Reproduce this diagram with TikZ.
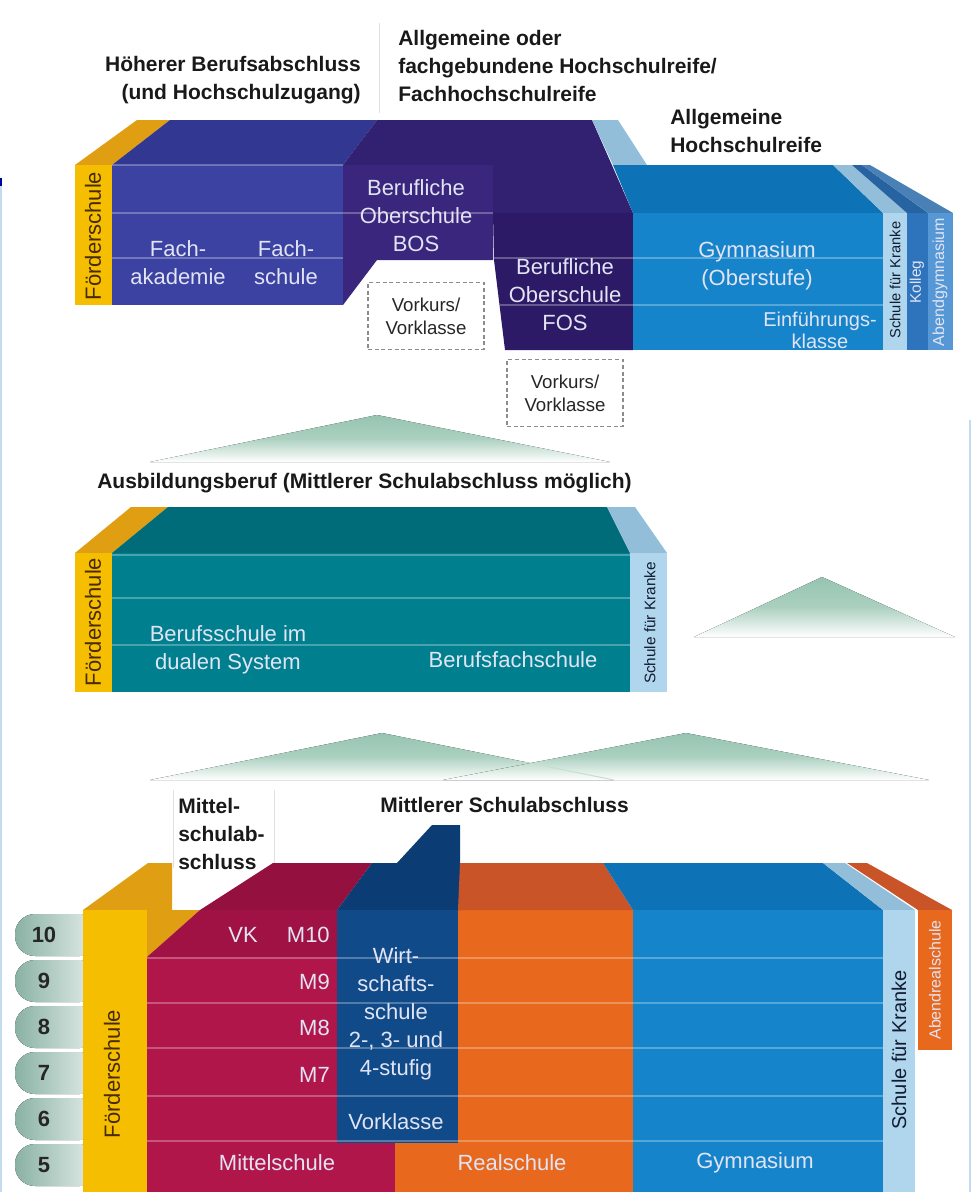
\documentclass[tikz,border=0pt]{standalone}
\usepackage{fontspec}
\setmainfont{Liberation Sans}
\usetikzlibrary{positioning}

\definecolor{gelb}{RGB}{246,190,0}
\definecolor{gelbdach}{RGB}{224,158,18}
\definecolor{fachblau}{RGB}{60,66,162}
\definecolor{fachdach}{RGB}{50,56,146}
\definecolor{bosviolett}{RGB}{58,38,124}
\definecolor{fosviolett}{RGB}{44,26,102}
\definecolor{violettdach}{RGB}{50,32,112}
\definecolor{gymblau}{RGB}{22,132,202}
\definecolor{gymdach}{RGB}{14,114,182}
\definecolor{hellblau}{RGB}{176,214,238}
\definecolor{hellblaudach}{RGB}{146,190,218}
\definecolor{kollegblau}{RGB}{46,116,188}
\definecolor{abendblau}{RGB}{86,152,214}
\definecolor{petrol}{RGB}{0,128,143}
\definecolor{petroldach}{RGB}{0,108,122}
\definecolor{karmin}{RGB}{176,22,74}
\definecolor{karmindach}{RGB}{148,16,62}
\definecolor{karminhinten}{RGB}{160,18,68}
\definecolor{wirtblau}{RGB}{16,74,136}
\definecolor{wirtdach}{RGB}{12,60,116}
\definecolor{realorange}{RGB}{232,104,30}
\definecolor{orangedach}{RGB}{200,84,40}
\definecolor{bergfarbe}{RGB}{150,196,176}
\definecolor{stufe}{RGB}{138,178,164}
\definecolor{schrift}{RGB}{226,228,244}
\definecolor{foerdertext}{RGB}{70,44,0}
\definecolor{kranktext}{RGB}{18,28,48}
\definecolor{randblau}{RGB}{196,218,240}

\tikzset{
  kopf/.style={font=\bfseries\fontsize{15.75}{21}\selectfont, text=black!90, inner sep=0pt},
  lbl/.style={font=\fontsize{16.5}{21}\selectfont, text=schrift, align=center, inner sep=0pt},
  vorkurs/.style={draw=black!45, dash pattern=on 3pt off 2pt, line width=.8pt,
    font=\fontsize{14}{17}\selectfont, text=black!85, align=center},
  foerder/.style={rotate=90, font=\fontsize{16.5}{20}\selectfont, text=foerdertext, inner sep=0pt},
  krank/.style={rotate=90, text=kranktext, inner sep=0pt},
  zeile/.style={white, opacity=.28, line width=.9pt},
  trenn/.style={black!12, line width=.6pt},
  berg/.style={top color=bergfarbe, bottom color=white, middle color=bergfarbe!80},
  pille/.style={left color=stufe, right color=stufe!20, rounded corners=15pt},
  stufenr/.style={font=\bfseries\fontsize{16.5}{17}\selectfont, text=black!85, inner sep=0pt},
}

\begin{document}
\begin{tikzpicture}[x=0.75pt,y=-0.75pt]
\useasboundingbox (0,0) rectangle (971,1192);

% Rand
\draw[randblau, line width=1.5pt] (1,178) -- (1,1192);
\draw[blue!60!black, line width=1.5pt] (1,178) -- (1,186);
\draw[randblau, line width=1.5pt] (970,420) -- (970,1192);

% Berge
\fill[berg] (150,462) -- (377,415) -- (610,462) -- cycle;
\fill[berg] (694,637) -- (822,577) -- (955,637) -- cycle;
\fill[berg] (150,780) -- (382,733) -- (614,780) -- cycle;
\fill[berg] (443,780) -- (686,733) -- (929,780) -- cycle;
\draw[bergfarbe!55, line width=.8pt] (525,762) -- (614,780);

% Oberstufe
\draw[trenn] (379,23) -- (379,113);
\node[kopf, align=right, anchor=east] (hoehererKopf) at (361,80) {Höherer Berufsabschluss\\(und Hochschulzugang)};
\node[kopf, align=left, anchor=west] (reifeKopf) at (398,66) {Allgemeine oder\\fachgebundene Hochschulreife/\\Fachhochschulreife};
\node[kopf, align=left, anchor=west] (abiKopf) at (670,131) {Allgemeine\\Hochschulreife};

\fill[gelbdach] (75,165) -- (137,120) -- (170,120) -- (112,165) -- cycle;
\fill[gelb] (75,165) rectangle (112,305);
\fill[fachdach] (112,165) -- (170,120) -- (377,120) -- (343,165) -- cycle;
\fill[fachblau] (112,165) rectangle (343,305);
\fill[violettdach] (343,165) -- (377,120) -- (592,120) -- (633,213) -- (493,213) -- (493,165) -- cycle;
\fill[bosviolett] (343,165) -- (493,165) -- (493,260) -- (377,260) -- (343,305) -- cycle;
\fill[fosviolett] (493,213) -- (633,213) -- (633,350) -- (505,350) -- (494,260) -- cycle;
\fill[hellblaudach] (592,120) -- (618,120) -- (647,165) -- (613,165) -- cycle;
\fill[gymdach] (613,165) -- (833,165) -- (883,213) -- (633,213) -- cycle;
\fill[gymblau] (633,213) rectangle (883,350);
\fill[hellblaudach] (833,165) -- (852,165) -- (907,213) -- (883,213) -- cycle;
\fill[hellblau] (883,213) rectangle (907,350);
\fill[kollegblau!85!black] (852,165) -- (862,165) -- (928,213) -- (907,213) -- cycle;
\fill[kollegblau] (907,213) rectangle (928,350);
\fill[abendblau!85!black] (862,165) -- (870,165) -- (953,213) -- (928,213) -- cycle;
\fill[abendblau] (928,213) rectangle (953,350);
\draw[zeile] (112,165) -- (343,165);
\draw[zeile] (112,213) -- (493,213);
\draw[zeile] (112,258) -- (343,258);
\draw[zeile] (494,258) -- (883,258);
\draw[zeile] (500,305) -- (883,305);

\node[foerder] (foerderOben) at (93,236) {Förderschule};
\node[lbl] (fachakademie) at (178,263) {Fach-\\akademie};
\node[lbl] (fachschule) at (286,263) {Fach-\\schule};
\node[lbl] (bos) at (416,216) {Berufliche\\Oberschule\\BOS};
\node[vorkurs, minimum width=87pt, minimum height=50pt] (vorkursBos) at (426,316) {Vorkurs/\\Vorklasse};
\node[lbl] (fos) at (565,295) {Berufliche\\Oberschule\\FOS};
\node[vorkurs, minimum width=87pt, minimum height=50pt] (vorkursFos) at (565,393) {Vorkurs/\\Vorklasse};
\node[lbl] (gymOben) at (757,266) {Gymnasium\\(Oberstufe)};
\node[lbl, font=\fontsize{15}{16.5}\selectfont] (einfuehrung) at (820,330) {Einführungs-\\klasse};
\node[krank, font=\fontsize{11}{11}\selectfont] (krankOben) at (895,280) {Schule für Kranke};
\node[krank, text=schrift, font=\fontsize{11.5}{11.5}\selectfont] (kolleg) at (917,282) {Kolleg};
\node[krank, text=schrift, font=\fontsize{12}{12}\selectfont] (abendgym) at (940,282) {Abendgymnasium};

% Berufliche Bildung
\node[kopf, anchor=base west] (ausbildungKopf) at (97,488) {Ausbildungsberuf (Mittlerer Schulabschluss möglich)};
\fill[gelbdach] (75,553) -- (131,507) -- (168,507) -- (112,553) -- cycle;
\fill[gelb] (75,553) rectangle (112,692);
\fill[petroldach] (112,553) -- (168,507) -- (607,507) -- (630,553) -- cycle;
\fill[petrol] (112,553) rectangle (630,692);
\fill[hellblaudach] (607,507) -- (635,507) -- (667,553) -- (630,553) -- cycle;
\fill[hellblau] (630,553) rectangle (667,692);
\draw[zeile] (112,555) -- (630,555);
\draw[zeile] (112,598) -- (630,598);
\draw[zeile] (112,645) -- (630,645);

\node[foerder] (foerderMitte) at (93,622) {Förderschule};
\node[lbl] (berufsschule) at (228,650) {Berufsschule im\\dualen System};
\node[lbl] (berufsfach) at (513,660) {Berufsfachschule};
\node[krank, font=\fontsize{11.5}{11.5}\selectfont] (krankMitte) at (650,623) {Schule für Kranke};

% Sekundarstufe I
\draw[trenn] (173,790) -- (173,868);
\draw[trenn] (274,790) -- (274,868);
\node[kopf, align=left, anchor=west] (mittelKopf) at (178,834) {Mittel-\\schulab-\\schluss};
\node[kopf, anchor=base west] (mittlererKopf) at (380,812) {Mittlerer Schulabschluss};

\foreach \g [count=\i from 0] in {10,9,8,7,6,5} {
  \fill[pille] (15,{914+46*\i}) rectangle (100,{956+46*\i});
  \node[stufenr] (stufe\g) at (44,{935+46*\i}) {\g};
}

\fill[gelbdach] (83,910) -- (148,863) -- (172,863) -- (172,910) -- cycle;
\fill[gelbdach] (147,910) -- (200,910) -- (147,957) -- cycle;
\fill[gelb] (83,910) rectangle (147,1192);
\fill[karmindach] (200,910) -- (273,863) -- (372,863) -- (337,910) -- cycle;
\fill[karminhinten] (147,957) -- (200,910) -- (337,910) -- (337,957) -- cycle;
\fill[realorange] (395,910) rectangle (633,1192);
\fill[karmin] (147,957) rectangle (395,1192);
\fill[wirtdach] (337,910) -- (372,863) -- (397,863) -- (432,825) -- (460,825) -- (460,910) -- cycle;
\fill[wirtblau] (337,910) rectangle (458,1143);
\fill[orangedach] (458,910) -- (460,863) -- (603,863) -- (633,910) -- cycle;
\fill[gymdach] (603,863) -- (823,863) -- (883,910) -- (633,910) -- cycle;
\fill[gymblau] (633,910) rectangle (883,1192);
\fill[hellblaudach] (823,863) -- (845,863) -- (915,910) -- (883,910) -- cycle;
\fill[hellblau] (883,910) rectangle (915,1192);
\fill[orangedach] (847,863) -- (867,863) -- (952,910) -- (918,910) -- cycle;
\fill[realorange] (918,910) rectangle (952,1050);
\foreach \y in {958,1003,1048,1096,1141}
  \draw[zeile] (147,\y) -- (883,\y);

\node[foerder] (foerderUnten) at (112,1074) {Förderschule};
\node[lbl] (vk) at (243,935) {VK};
\node[lbl, anchor=east] (m10) at (330,935) {M10};
\node[lbl, anchor=east] (m9) at (330,982) {M9};
\node[lbl, anchor=east] (m8) at (330,1028) {M8};
\node[lbl, anchor=east] (m7) at (330,1075) {M7};
\node[lbl] (wirtschaft) at (396,1014) {Wirt-\\schafts-\\schule\\2-, 3- und\\4-stufig};
\node[lbl] (vorklasse) at (396,1122) {Vorklasse};
\node[lbl] (mittelschule) at (277,1163) {Mittelschule};
\node[lbl] (realschule) at (512,1163) {Realschule};
\node[lbl] (gymUnten) at (755,1163) {Gymnasium};
\node[krank, font=\fontsize{15}{15}\selectfont] (krankUnten) at (899,1050) {Schule für Kranke};
\node[krank, text=schrift, font=\fontsize{12}{12}\selectfont] (abendreal) at (935,980) {Abendrealschule};
\end{tikzpicture}
\end{document}
